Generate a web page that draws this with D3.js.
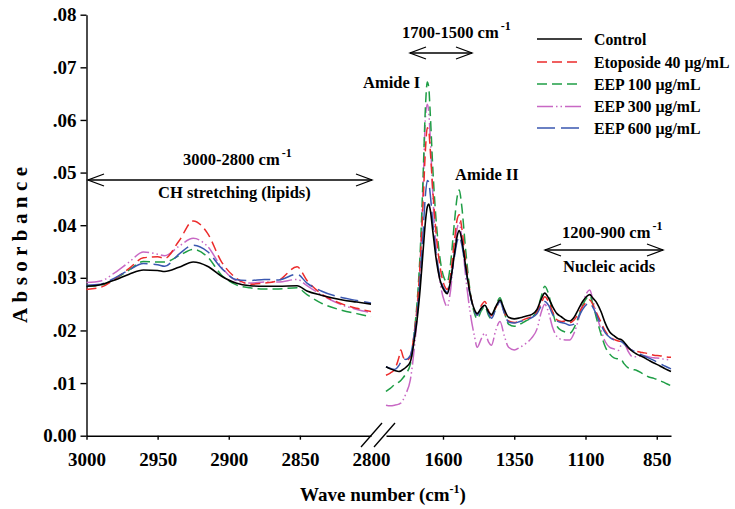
<!DOCTYPE html>
<html><head><meta charset="utf-8">
<script src="https://cdn.jsdelivr.net/npm/d3@7"></script>
<style>
body{margin:0;background:#fff}
svg{display:block}
text{font-family:"Liberation Serif","Times New Roman",serif;font-weight:bold;fill:#000}
</style>
</head><body>
<svg id="chart" width="735" height="509"></svg>
<script>
// ---------------- DATA ----------------
const seriesNames = ["Control", "Etoposide 40 \u00b5g/mL", "EEP 100 \u00b5g/mL", "EEP 300 \u00b5g/mL", "EEP 600 \u00b5g/mL"];
const yTicks = [0, 0.01, 0.02, 0.03, 0.04, 0.05, 0.06, 0.07, 0.08];
const xTicksLipid = [3000, 2950, 2900, 2850, 2800];
const xTicksFinger = [1600, 1350, 1100, 850];

// 3000-2800 cm-1 region
const wnLipid = [3000, 2990, 2980, 2970, 2960, 2950, 2945, 2935, 2925, 2915, 2905, 2895, 2885, 2875, 2865, 2852, 2845, 2835, 2820, 2810, 2800];
const controlLipid = [.0284,.0287,.0296,.0307,.0315,.0314,.0312,.0320,.0330,.0322,.0303,.0290,.0285,.0284,.0284,.0285,.0275,.0267,.0258,.0254,.0250];
const etoLipid     = [.0278,.0282,.0298,.0318,.0338,.0340,.0337,.0370,.0408,.0385,.0330,.0300,.0288,.0290,.0295,.0321,.0295,.0270,.0250,.0242,.0236];
const eep100Lipid  = [.0284,.0286,.0298,.0315,.0331,.0330,.0330,.0342,.0354,.0340,.0305,.0287,.0281,.0279,.0279,.0281,.0268,.0252,.0238,.0232,.0226];
const eep300Lipid  = [.0291,.0294,.0310,.0330,.0349,.0345,.0342,.0360,.0375,.0360,.0320,.0295,.0290,.0292,.0292,.0297,.0285,.0268,.0248,.0240,.0234];
const eep600Lipid  = [.0286,.0288,.0300,.0315,.0327,.0325,.0322,.0345,.0362,.0350,.0318,.0297,.0295,.0297,.0296,.0307,.0290,.0275,.0262,.0257,.0252];

// 1800-800 cm-1 region
const wnFinger = [1800,1785,1770,1755,1748,1740,1730,1715,1700,1690,
  1680,1670,1662,1655,1650,1645,1635,1625,1610,1595,
  1585,1575,1560,1550,1543,1535,1520,1505,1490,1480,
  1465,1453,1440,1430,1415,1400,1385,1370,1350,1330,
  1310,1290,1270,1255,1243,1230,1215,1200,1185,1170,
  1155,1140,1125,1110,1095,1085,1075,1060,1045,1030,
  1015,1000,985,975,965,950,935,920,900,880,
  860,840,820,800];
const controlFinger = [.0131,.0127,.0124,.0122,.0123,.0126,.0130,.0140,.0185,.0225,
  .0280,.0350,.0405,.0435,.0440,.0430,.0385,.0340,.0295,.0275,
  .0270,.0290,.0345,.0380,.0390,.0375,.0320,.0270,.0240,.0232,
  .0243,.0248,.0235,.0230,.0245,.0258,.0240,.0225,.0222,.0224,
  .0227,.0230,.0240,.0260,.0271,.0262,.0245,.0232,.0226,.0220,
  .0218,.0225,.0240,.0255,.0265,.0268,.0262,.0252,.0235,.0213,
  .0197,.0190,.0184,.0183,.0178,.0168,.0160,.0155,.0150,.0144,
  .0138,.0133,.0127,.0122];
const etoFinger = [.0115,.0119,.0126,.0148,.0163,.0150,.0143,.0150,.0200,.0250,
  .0330,.0440,.0540,.0585,.0580,.0545,.0460,.0390,.0320,.0285,
  .0278,.0300,.0370,.0412,.0420,.0398,.0330,.0272,.0238,.0230,
  .0248,.0255,.0237,.0228,.0243,.0255,.0235,.0218,.0215,.0218,
  .0222,.0226,.0235,.0252,.0264,.0255,.0235,.0220,.0217,.0218,
  .0215,.0220,.0232,.0245,.0255,.0258,.0250,.0232,.0215,.0198,
  .0188,.0183,.0180,.0179,.0175,.0166,.0162,.0160,.0158,.0156,
  .0153,.0152,.0150,.0149];
const eep100Finger = [.0084,.0090,.0097,.0102,.0105,.0110,.0118,.0135,.0200,.0260,
  .0350,.0490,.0620,.0672,.0662,.0615,.0500,.0415,.0335,.0298,
  .0292,.0320,.0405,.0455,.0467,.0440,.0350,.0275,.0233,.0222,
  .0238,.0246,.0228,.0222,.0245,.0262,.0235,.0212,.0208,.0212,
  .0218,.0224,.0238,.0265,.0284,.0270,.0235,.0208,.0200,.0197,
  .0195,.0205,.0225,.0248,.0262,.0266,.0252,.0220,.0192,.0168,
  .0155,.0148,.0146,.0145,.0137,.0129,.0126,.0124,.0118,.0112,
  .0109,.0105,.0100,.0095];
const eep300Finger = [.0058,.0057,.0058,.0060,.0062,.0068,.0080,.0105,.0170,.0230,
  .0330,.0470,.0600,.0630,.0615,.0570,.0450,.0360,.0290,.0255,
  .0245,.0270,.0350,.0395,.0405,.0380,.0300,.0235,.0190,.0168,
  .0185,.0195,.0178,.0172,.0200,.0217,.0190,.0168,.0163,.0168,
  .0175,.0185,.0203,.0235,.0250,.0235,.0205,.0188,.0183,.0182,
  .0182,.0195,.0220,.0250,.0272,.0277,.0260,.0228,.0200,.0178,
  .0168,.0165,.0162,.0172,.0175,.0160,.0150,.0150,.0152,.0150,
  .0148,.0147,.0145,.0144];
const eep600Finger = [.0131,.0128,.0126,.0133,.0140,.0146,.0145,.0152,.0195,.0235,
  .0300,.0385,.0455,.0485,.0482,.0460,.0400,.0350,.0300,.0278,
  .0272,.0290,.0340,.0370,.0378,.0365,.0315,.0268,.0237,.0229,
  .0242,.0248,.0232,.0223,.0240,.0255,.0233,.0216,.0214,.0217,
  .0220,.0224,.0232,.0247,.0255,.0248,.0230,.0218,.0215,.0213,
  .0210,.0212,.0225,.0240,.0250,.0252,.0245,.0228,.0210,.0195,
  .0187,.0182,.0180,.0179,.0175,.0167,.0162,.0158,.0153,.0148,
  .0143,.0137,.0132,.0127];

// ---------------- STYLE ----------------
const styles = [
  {color:"#000000", dash:null, width:1.6},
  {color:"#ec2b2b", dash:"10,5", width:1.5},
  {color:"#1f9e46", dash:"10,5", width:1.5},
  {color:"#c868c4", dash:"16,3,1.5,3,1.5,3", width:1.5},
  {color:"#3a57b0", dash:"18,6", width:1.5}
];
const series = [
  {name:seriesNames[0], lipid:controlLipid, finger:controlFinger, style:styles[0]},
  {name:seriesNames[1], lipid:etoLipid, finger:etoFinger, style:styles[1]},
  {name:seriesNames[2], lipid:eep100Lipid, finger:eep100Finger, style:styles[2]},
  {name:seriesNames[3], lipid:eep300Lipid, finger:eep300Finger, style:styles[3]},
  {name:seriesNames[4], lipid:eep600Lipid, finger:eep600Finger, style:styles[4]}
];

const svg = d3.select("#chart");
const plotTop = 14.7, plotBottom = 435.7, plotLeft = 86.5;
const y = d3.scaleLinear().domain([0, 0.08]).range([plotBottom, plotTop]);
const xL = d3.scaleLinear().domain([3000, 2800]).range([plotLeft, 371]);
const xR = d3.scaleLinear().domain([1800, 800]).range([386, 671]);

// ---------------- AXES ----------------
const yAxis = svg.append("g").attr("transform", `translate(${plotLeft},0)`)
  .call(d3.axisLeft(y).tickValues(yTicks).tickSize(6).tickSizeOuter(0).tickPadding(4)
    .tickFormat(d => d === 0 ? "0.00" : d3.format(".2f")(d).replace(/^0/, "")));
const xAxisL = svg.append("g").attr("transform", `translate(0,${plotBottom})`)
  .call(d3.axisBottom(xL).tickValues(xTicksLipid).tickFormat(d3.format("d")).tickSize(4).tickSizeOuter(0).tickPadding(13));
const xAxisR = svg.append("g").attr("transform", `translate(0,${plotBottom})`)
  .call(d3.axisBottom(xR).tickValues(xTicksFinger).tickFormat(d3.format("d")).tickSize(4).tickSizeOuter(0).tickPadding(13));
[yAxis, xAxisL, xAxisR].forEach(g => {
  g.attr("font-family", null).attr("font-size", null);
  g.selectAll("text").style("font-size", "19px");
  g.selectAll("path,line").attr("stroke", "#000").attr("stroke-width", 1.4);
});
xAxisL.selectAll(".tick").filter(d => d === 2800).select("line").remove();

// axis break slashes
svg.append("line").attr("x1", 361).attr("y1", 447).attr("x2", 382).attr("y2", 423).attr("stroke", "#000").attr("stroke-width", 1.3);
svg.append("line").attr("x1", 374).attr("y1", 447).attr("x2", 395).attr("y2", 423).attr("stroke", "#000").attr("stroke-width", 1.3);

// axis titles
svg.append("text").attr("transform", "translate(27,245) rotate(-90)").attr("text-anchor", "middle")
  .style("font-size", "21px").attr("textLength", 156).attr("lengthAdjust", "spacing").text("Absorbance");
const xt = svg.append("text").attr("x", 383).attr("y", 501).attr("text-anchor", "middle").style("font-size", "19px");
xt.append("tspan").text("Wave number (cm");
xt.append("tspan").attr("dy", -8).style("font-size", "12px").text("-1");
xt.append("tspan").attr("dy", 8).text(")");

// ---------------- LINES ----------------
const lineL = d3.line().x((d, i) => xL(wnLipid[i])).y(d => y(d)).curve(d3.curveMonotoneX);
const lineR = d3.line().x((d, i) => xR(wnFinger[i])).y(d => y(d)).curve(d3.curveMonotoneX);
const drawOrder = [3, 2, 1, 4, 0];
drawOrder.forEach(k => {
  const s = series[k];
  [[lineL, s.lipid], [lineR, s.finger]].forEach(([gen, vals]) => {
    svg.append("path").attr("d", gen(vals)).attr("fill", "none")
      .attr("stroke", s.style.color).attr("stroke-width", s.style.width)
      .attr("stroke-dasharray", s.style.dash);
  });
});

// ---------------- LEGEND ----------------
const legendY = [39, 62, 84, 106.5, 128];
series.forEach((s, i) => {
  svg.append("line").attr("x1", 537).attr("x2", 582).attr("y1", legendY[i]).attr("y2", legendY[i])
    .attr("stroke", s.style.color).attr("stroke-width", s.style.width).attr("stroke-dasharray", s.style.dash);
  svg.append("text").attr("x", 594).attr("y", legendY[i]).attr("dy", "0.35em")
    .style("font-size", "15.8px").text(s.name);
});

// ---------------- ANNOTATIONS ----------------
function supLabel(x, yb, main) {
  const t = svg.append("text").attr("x", x).attr("y", yb).style("font-size", "16.5px");
  t.append("tspan").text(main);
  t.append("tspan").attr("dx", 2).attr("dy", -8).style("font-size", "12px").text("-1");
}
function plainLabel(x, yb, txt) {
  svg.append("text").attr("x", x).attr("y", yb).style("font-size", "16.5px").text(txt);
}
function doubleArrow(x1, x2, yy) {
  const g = svg.append("g").attr("stroke", "#000").attr("stroke-width", 1.3).attr("fill", "none");
  g.append("line").attr("x1", x1).attr("x2", x2).attr("y1", yy).attr("y2", yy);
  g.append("path").attr("d", `M${x1 + 16},${yy - 6} L${x1},${yy} L${x1 + 16},${yy + 6}`);
  g.append("path").attr("d", `M${x2 - 16},${yy - 6} L${x2},${yy} L${x2 - 16},${yy + 6}`);
}
supLabel(183, 165, "3000-2800 cm");
doubleArrow(88, 372, 180);
plainLabel(158, 198, "CH stretching (lipids)");

supLabel(402, 38, "1700-1500 cm");
doubleArrow(410, 472, 53);
plainLabel(363, 88, "Amide I");
plainLabel(455, 180, "Amide II");

supLabel(562, 238, "1200-900 cm");
doubleArrow(545, 663, 250);
plainLabel(563, 272, "Nucleic acids");
</script>
</body></html>
